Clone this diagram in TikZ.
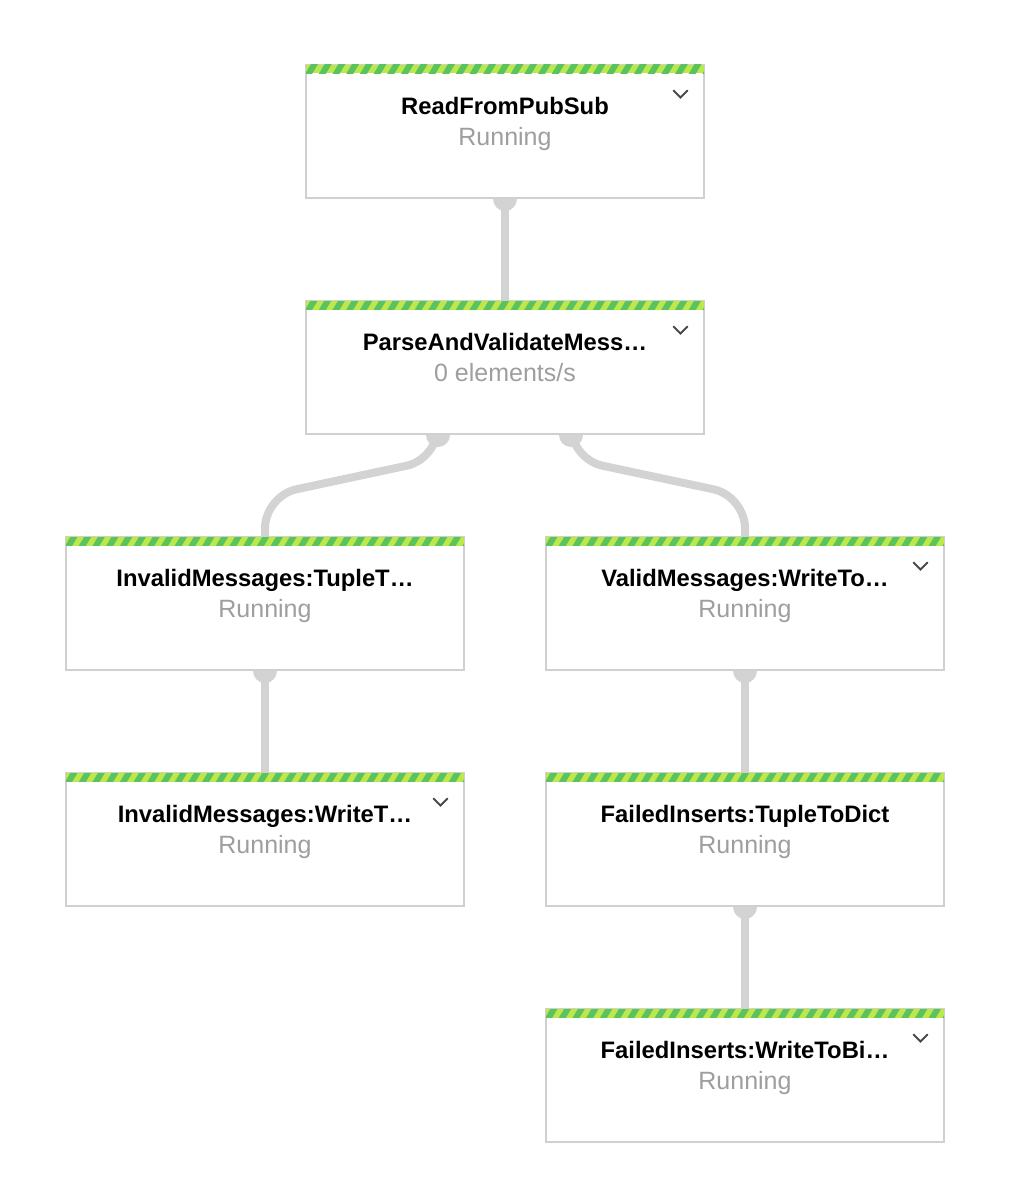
\documentclass[tikz,border=0pt]{standalone}
\usepackage{fontspec}
\setmainfont{Liberation Sans}
\usetikzlibrary{calc}
\definecolor{boxborder}{HTML}{D0D0D0}
\definecolor{wire}{HTML}{D3D3D3}
\definecolor{subgray}{HTML}{9E9E9E}
\definecolor{lightg}{HTML}{BDE84B}
\definecolor{darkg}{HTML}{5BC35E}
\definecolor{chev}{HTML}{4A4A4A}
\pgfdeclarelayer{bg}
\pgfsetlayers{bg,main}
\newcommand\stripeband[1]{%
  \begin{scope}
    \clip ([shift={(1pt,-1pt)}]#1.north west) rectangle ([shift={(-1pt,-9.5pt)}]#1.north east);
    \fill[lightg] ([shift={(1pt,-1pt)}]#1.north west) rectangle ([shift={(-1pt,-9.5pt)}]#1.north east);
    \foreach \i in {-1,...,30}{
      \fill[darkg] ([xshift=\i*13.7pt]#1.north west) ++(0,10) -- ++(7,0) -- ++(6,-10) -- ++(-7,0) -- cycle;
    }
  \end{scope}}
\newcommand\chevron[1]{%
  \draw[chev,line width=2pt,line cap=round,line join=miter]
    ([shift={(-31.5pt,-26.5pt)}]#1.north east) -- ++(7,7) -- ++(7,-7);}
\tikzset{
  box/.style={draw=boxborder,line width=2pt,fill=white,minimum width=398pt,minimum height=133pt,inner sep=0pt},
  ttl/.style={anchor=base,font=\fontsize{23.8}{27}\selectfont\bfseries,text=black,inner sep=0pt},
  sub/.style={anchor=base,font=\fontsize{25}{28}\selectfont,text=subgray,inner sep=0pt},
  wirestyle/.style={draw=wire,line width=8pt,rounded corners=32pt},
  portdot/.style={fill=wire}
}
\begin{document}
\begin{tikzpicture}[x=1pt,y=-1pt]
\useasboundingbox (0,0) rectangle (1009,1199);

\node[box] (b1) at (505,131.5) {};
\node[box] (b2) at (505,367.5) {};
\node[box] (b3) at (265,603.5) {};
\node[box] (b4) at (745,603.5) {};
\node[box] (b5) at (265,839.5) {};
\node[box] (b6) at (745,839.5) {};
\node[box] (b7) at (745,1075.5) {};

\foreach \b in {b1,b2,b3,b4,b5,b6,b7}{\stripeband{\b}}

\node[ttl] (t1) at ([yshift=-50pt]b1.north) {ReadFromPubSub};
\node[sub] (s1) at ([yshift=-81pt]b1.north) {Running};
\node[ttl] (t2) at ([yshift=-50pt]b2.north) {ParseAndValidateMess…};
\node[sub] (s2) at ([yshift=-81pt]b2.north) {0 elements/s};
\node[ttl] (t3) at ([yshift=-50pt]b3.north) {InvalidMessages:TupleT…};
\node[sub] (s3) at ([yshift=-81pt]b3.north) {Running};
\node[ttl] (t4) at ([yshift=-50pt]b4.north) {ValidMessages:WriteTo…};
\node[sub] (s4) at ([yshift=-81pt]b4.north) {Running};
\node[ttl] (t5) at ([yshift=-50pt]b5.north) {InvalidMessages:WriteT…};
\node[sub] (s5) at ([yshift=-81pt]b5.north) {Running};
\node[ttl] (t6) at ([yshift=-50pt]b6.north) {FailedInserts:TupleToDict};
\node[sub] (s6) at ([yshift=-81pt]b6.north) {Running};
\node[ttl] (t7) at ([yshift=-50pt]b7.north) {FailedInserts:WriteToBi…};
\node[sub] (s7) at ([yshift=-81pt]b7.north) {Running};

\chevron{b1}
\chevron{b2}
\chevron{b4}
\chevron{b5}
\chevron{b7}

\coordinate (p2l) at ([xshift=-67pt]b2.south);
\coordinate (p2r) at ([xshift=66pt]b2.south);

\begin{pgfonlayer}{bg}
  \fill[white] (0,0) rectangle (1009,1199);
  \draw[wirestyle] (b1.south) -- (b2.north);
  \draw[wirestyle] (p2l) -- ++(0,24) -- ($(b3.north)+(0,-40)$) -- (b3.north);
  \draw[wirestyle] (p2r) -- ++(0,24) -- ($(b4.north)+(0,-40)$) -- (b4.north);
  \draw[wirestyle] (b3.south) -- (b5.north);
  \draw[wirestyle] (b4.south) -- (b6.north);
  \draw[wirestyle] (b6.south) -- (b7.north);
  \foreach \p in {b1.south,p2l,p2r,b3.south,b4.south,b6.south}{
    \fill[portdot] (\p) circle[radius=12];
  }
\end{pgfonlayer}
\end{tikzpicture}
\end{document}
